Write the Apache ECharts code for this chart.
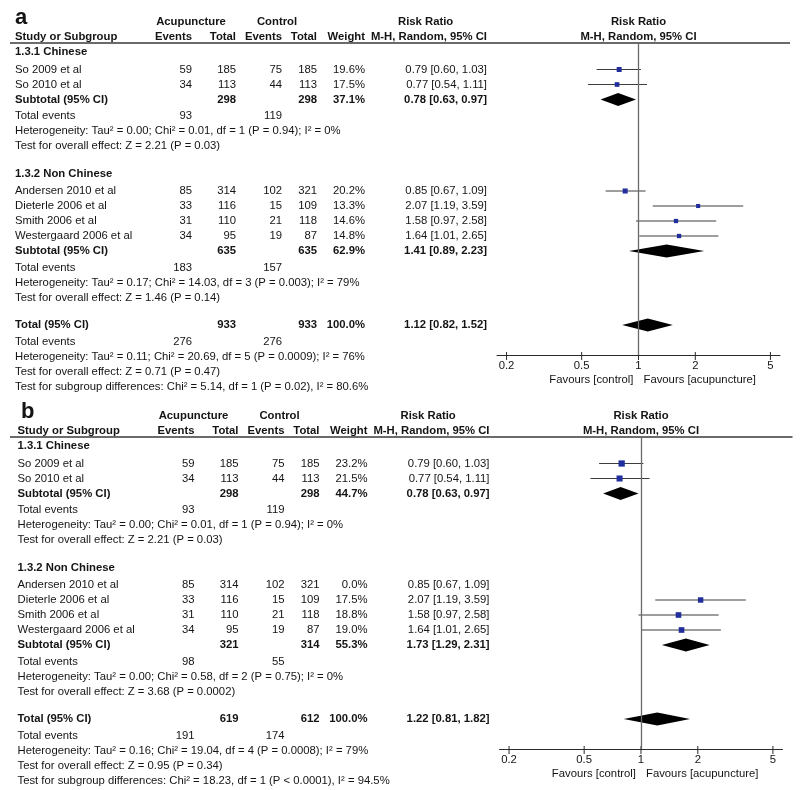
<!DOCTYPE html>
<html><head><meta charset="utf-8">
<script src="https://cdn.jsdelivr.net/npm/echarts@6/dist/echarts.min.js"></script>
<style>html,body{margin:0;padding:0;background:#fff}#c{width:800px;height:790px}</style>
</head><body><div id="c"></div>
<script>
// ---------------- data ----------------
const groupNames = ['1.3.1 Chinese', '1.3.2 Non Chinese'];
const studyNames = ['So 2009 et al', 'So 2010 et al', 'Andersen 2010 et al', 'Dieterle 2006 et al', 'Smith 2006 et al', 'Westergaard 2006 et al'];
const studyGroup = [0, 0, 1, 1, 1, 1];
const acuEvents = [59, 34, 85, 33, 31, 34];
const acuTotal = [185, 113, 314, 116, 110, 95];
const ctlEvents = [75, 44, 102, 15, 21, 19];
const ctlTotal = [185, 113, 321, 109, 118, 87];
const rrEst = [0.79, 0.77, 0.85, 2.07, 1.58, 1.64];
const rrLow = [0.60, 0.54, 0.67, 1.19, 0.97, 1.01];
const rrHigh = [1.03, 1.11, 1.09, 3.59, 2.58, 2.65];
const tickValues = [0.2, 0.5, 1, 2, 5];
const tickLabels = ['0.2', '0.5', '1', '2', '5'];

// panel a
const weightA = [19.6, 17.5, 20.2, 13.3, 14.6, 14.8];
const subAcuTotalA = [298, 635];
const subCtlTotalA = [298, 635];
const subWeightA = [37.1, 62.9];
const subEstA = [0.78, 1.41];
const subLowA = [0.63, 0.89];
const subHighA = [0.97, 2.23];
const subAcuEventsA = [93, 183];
const subCtlEventsA = [119, 157];
const hetA = ['Heterogeneity: Tau² = 0.00; Chi² = 0.01, df = 1 (P = 0.94); I² = 0%',
              'Heterogeneity: Tau² = 0.17; Chi² = 14.03, df = 3 (P = 0.003); I² = 79%'];
const testA = ['Test for overall effect: Z = 2.21 (P = 0.03)',
               'Test for overall effect: Z = 1.46 (P = 0.14)'];
const totalA = [933, 933, 100.0, 1.12, 0.82, 1.52];  // acuTotal, ctlTotal, weight, est, low, high
const totalEventsA = [276, 276];
const totalNotesA = ['Heterogeneity: Tau² = 0.11; Chi² = 20.69, df = 5 (P = 0.0009); I² = 76%',
                     'Test for overall effect: Z = 0.71 (P = 0.47)',
                     'Test for subgroup differences: Chi² = 5.14, df = 1 (P = 0.02), I² = 80.6%'];

// panel b
const weightB = [23.2, 21.5, 0.0, 17.5, 18.8, 19.0];
const subAcuTotalB = [298, 321];
const subCtlTotalB = [298, 314];
const subWeightB = [44.7, 55.3];
const subEstB = [0.78, 1.73];
const subLowB = [0.63, 1.29];
const subHighB = [0.97, 2.31];
const subAcuEventsB = [93, 98];
const subCtlEventsB = [119, 55];
const hetB = ['Heterogeneity: Tau² = 0.00; Chi² = 0.01, df = 1 (P = 0.94); I² = 0%',
              'Heterogeneity: Tau² = 0.00; Chi² = 0.58, df = 2 (P = 0.75); I² = 0%'];
const testB = ['Test for overall effect: Z = 2.21 (P = 0.03)',
               'Test for overall effect: Z = 3.68 (P = 0.0002)'];
const totalB = [619, 612, 100.0, 1.22, 0.81, 1.82];
const totalEventsB = [191, 174];
const totalNotesB = ['Heterogeneity: Tau² = 0.16; Chi² = 19.04, df = 4 (P = 0.0008); I² = 79%',
                     'Test for overall effect: Z = 0.95 (P = 0.34)',
                     'Test for subgroup differences: Chi² = 18.23, df = 1 (P < 0.0001), I² = 94.5%'];

// ---------------- layout ----------------
const panels = [
  { label: 'a', dx: 0, dy: 0, labelX: 15, sq: 1.12, weight: weightA, subAcuTotal: subAcuTotalA, subCtlTotal: subCtlTotalA,
    subWeight: subWeightA, subEst: subEstA, subLow: subLowA, subHigh: subHighA, subAcuEv: subAcuEventsA, subCtlEv: subCtlEventsA,
    het: hetA, test: testA, total: totalA, totalEv: totalEventsA, totalNotes: totalNotesA },
  { label: 'b', dx: 2.5, dy: 394, labelX: 21, sq: 1.3, weight: weightB, subAcuTotal: subAcuTotalB, subCtlTotal: subCtlTotalB,
    subWeight: subWeightB, subEst: subEstB, subLow: subLowB, subHigh: subHighB, subAcuEv: subAcuEventsB, subCtlEv: subCtlEventsB,
    het: hetB, test: testB, total: totalB, totalEv: totalEventsB, totalNotes: totalNotesB }
];
const TOP = 43, PLOT_H = 312, GRID_LEFT = 497, GRID_W = 283;
const COL = { name: 15, acuEv: 192, acuTot: 236, ctlEv: 282, ctlTot: 317, weight: 365, rr: 487 };
const FF = '"Liberation Sans", Arial, sans-serif';
const FS = 11.3;
const TXT = '#141414';
const fnt = (b, s) => (b ? 'bold ' : '') + (s || FS) + 'px ' + FF;
const fmtRR = (e, l, h) => e.toFixed(2) + ' [' + l.toFixed(2) + ', ' + h.toFixed(2) + ']';

function buildRows(P) {
  const rows = [];
  let y = 9;
  const add = (r, extra) => { r.y = y; rows.push(r); y += 15 + (extra || 0); };
  for (let g = 0; g < 2; g++) {
    add({ kind: 'section', g }, 2.5);
    studyNames.forEach((n, i) => { if (studyGroup[i] === g) add({ kind: 'study', i }); });
    add({ kind: 'subtotal', g }, 1.5);
    add({ kind: 'events', acu: P.subAcuEv[g], ctl: P.subCtlEv[g] });
    add({ kind: 'note', text: P.het[g] });
    add({ kind: 'note', text: P.test[g] }, 12.5);
  }
  add({ kind: 'total' }, 1.5);
  add({ kind: 'events', acu: P.totalEv[0], ctl: P.totalEv[1] });
  P.totalNotes.forEach(t => add({ kind: 'note', text: t }));
  return rows;
}

function buildCells(P, rows) {
  const cells = [];
  const c = (y, col, text, align, bold) => cells.push({ y, x: COL[col] + P.dx, text: String(text), align, bold });
  rows.forEach(r => {
    const y = r.y;
    if (r.kind === 'section') c(y, 'name', groupNames[r.g], 'left', true);
    else if (r.kind === 'study') {
      const i = r.i;
      c(y, 'name', studyNames[i], 'left', false);
      c(y, 'acuEv', acuEvents[i], 'right'); c(y, 'acuTot', acuTotal[i], 'right');
      c(y, 'ctlEv', ctlEvents[i], 'right'); c(y, 'ctlTot', ctlTotal[i], 'right');
      c(y, 'weight', P.weight[i].toFixed(1) + '%', 'right');
      c(y, 'rr', fmtRR(rrEst[i], rrLow[i], rrHigh[i]), 'right');
    } else if (r.kind === 'subtotal') {
      const g = r.g;
      c(y, 'name', 'Subtotal (95% CI)', 'left', true);
      c(y, 'acuTot', P.subAcuTotal[g], 'right', true); c(y, 'ctlTot', P.subCtlTotal[g], 'right', true);
      c(y, 'weight', P.subWeight[g].toFixed(1) + '%', 'right', true);
      c(y, 'rr', fmtRR(P.subEst[g], P.subLow[g], P.subHigh[g]), 'right', true);
    } else if (r.kind === 'total') {
      const t = P.total;
      c(y, 'name', 'Total (95% CI)', 'left', true);
      c(y, 'acuTot', t[0], 'right', true); c(y, 'ctlTot', t[1], 'right', true);
      c(y, 'weight', t[2].toFixed(1) + '%', 'right', true);
      c(y, 'rr', fmtRR(t[3], t[4], t[5]), 'right', true);
    } else if (r.kind === 'events') {
      c(y, 'name', 'Total events', 'left');
      c(y, 'acuEv', r.acu, 'right'); c(y, 'ctlEv', r.ctl, 'right');
    } else if (r.kind === 'note') c(y, 'name', r.text, 'left');
  });
  return cells;
}

const grids = [], xAxes = [], yAxes = [], series = [], graphics = [];
panels.forEach((P, p) => {
  const rows = buildRows(P);
  const cells = buildCells(P, rows);
  const top = TOP + P.dy;
  grids.push({ left: GRID_LEFT + P.dx, top: top, width: GRID_W, height: PLOT_H });
  xAxes.push({ type: 'log', logBase: 10, gridIndex: p, min: 0.178, max: 5.62,
    axisLine: { show: true, onZero: false, lineStyle: { color: '#2a2a2a', width: 1 } },
    axisTick: { show: false }, axisLabel: { show: false }, splitLine: { show: false } });
  yAxes.push({ type: 'value', gridIndex: p, min: 0, max: PLOT_H, inverse: true, show: false });

  // table text
  series.push({ type: 'custom', xAxisIndex: p, yAxisIndex: p, silent: true, clip: false, z: 5,
    data: cells.map((cl, k) => [1, cl.y, k]),
    renderItem: (params, api) => {
      const cl = cells[api.value(2)];
      const py = api.coord([1, api.value(1)])[1];
      return { type: 'text', x: cl.x, y: py,
        style: { text: cl.text, fill: TXT, font: fnt(cl.bold), align: cl.align, verticalAlign: 'middle' } };
    } });

  // study markers
  const studyRows = rows.filter(r => r.kind === 'study' && P.weight[r.i] > 0);
  series.push({ type: 'custom', xAxisIndex: p, yAxisIndex: p, silent: true, clip: false, z: 4,
    data: studyRows.map(r => [rrEst[r.i], rrLow[r.i], rrHigh[r.i], r.y, P.weight[r.i]]),
    renderItem: (params, api) => {
      const y = api.value(3);
      const pe = api.coord([api.value(0), y]);
      const pl = api.coord([api.value(1), y]);
      const ph = api.coord([api.value(2), y]);
      const s = P.sq * Math.sqrt(api.value(4));
      return { type: 'group', children: [
        { type: 'line', shape: { x1: pl[0], y1: pe[1], x2: ph[0], y2: pe[1] }, style: { stroke: '#3c3c3c', lineWidth: 1 } },
        { type: 'rect', shape: { x: pe[0] - s / 2, y: pe[1] - s / 2, width: s, height: s }, style: { fill: '#1f2e9c' } }
      ] };
    },
    markLine: { silent: true, symbol: ['none', 'none'], label: { show: false },
      lineStyle: { color: '#6a6a6a', width: 1.3, type: 'solid' }, data: [{ xAxis: 1 }] } });

  // diamonds
  const diaRows = rows.filter(r => r.kind === 'subtotal' || r.kind === 'total');
  series.push({ type: 'custom', xAxisIndex: p, yAxisIndex: p, silent: true, clip: false, z: 4,
    data: diaRows.map(r => r.kind === 'total' ? [P.total[3], P.total[4], P.total[5], r.y]
                                              : [P.subEst[r.g], P.subLow[r.g], P.subHigh[r.g], r.y]),
    renderItem: (params, api) => {
      const y = api.value(3);
      const pe = api.coord([api.value(0), y]);
      const pl = api.coord([api.value(1), y]);
      const ph = api.coord([api.value(2), y]);
      const h = 6.5;
      return { type: 'polygon', shape: { points: [[pl[0], pe[1]], [pe[0], pe[1] - h], [ph[0], pe[1]], [pe[0], pe[1] + h]] },
        style: { fill: '#000' } };
    } });

  // axis ticks + labels
  series.push({ type: 'custom', xAxisIndex: p, yAxisIndex: p, silent: true, clip: false, z: 4,
    data: tickValues.map((v, k) => [v, PLOT_H, k]),
    renderItem: (params, api) => {
      const pt = api.coord([api.value(0), api.value(1)]);
      return { type: 'group', children: [
        { type: 'line', shape: { x1: pt[0], y1: pt[1] - 3, x2: pt[0], y2: pt[1] + 5 }, style: { stroke: '#2a2a2a', lineWidth: 1 } },
        { type: 'text', x: pt[0], y: pt[1] + 11, style: { text: tickLabels[api.value(2)], fill: TXT, font: fnt(false), align: 'center', verticalAlign: 'middle' } }
      ] };
    } });

  // favours labels
  series.push({ type: 'custom', xAxisIndex: p, yAxisIndex: p, silent: true, clip: false, z: 4,
    data: [[1, PLOT_H]],
    renderItem: (params, api) => {
      const pt = api.coord([api.value(0), api.value(1)]);
      return { type: 'group', children: [
        { type: 'text', x: pt[0] - 5, y: pt[1] + 25, style: { text: 'Favours [control]', fill: TXT, font: fnt(false), align: 'right', verticalAlign: 'middle' } },
        { type: 'text', x: pt[0] + 5, y: pt[1] + 25, style: { text: 'Favours [acupuncture]', fill: TXT, font: fnt(false), align: 'left', verticalAlign: 'middle' } }
      ] };
    } });

  // headers
  const dx = P.dx, dy = P.dy;
  const plotCx = GRID_LEFT + dx + GRID_W / 2;
  const ht = (x, y, text, align, bold, size) => graphics.push({ type: 'text', x, y,
    style: { text, fill: TXT, font: fnt(bold, size), align, verticalAlign: 'middle' } });
  ht(P.labelX, 18 + dy, P.label, 'left', true, 22);
  ht(191 + dx, 22 + dy, 'Acupuncture', 'center', true);
  ht(277 + dx, 22 + dy, 'Control', 'center', true);
  ht(398 + dx, 22 + dy, 'Risk Ratio', 'left', true);
  ht(plotCx, 22 + dy, 'Risk Ratio', 'center', true);
  ht(COL.name + dx, 37 + dy, 'Study or Subgroup', 'left', true);
  ht(COL.acuEv + dx, 37 + dy, 'Events', 'right', true);
  ht(COL.acuTot + dx, 37 + dy, 'Total', 'right', true);
  ht(COL.ctlEv + dx, 37 + dy, 'Events', 'right', true);
  ht(COL.ctlTot + dx, 37 + dy, 'Total', 'right', true);
  ht(COL.weight + dx, 37 + dy, 'Weight', 'right', true);
  ht(COL.rr + dx, 37 + dy, 'M-H, Random, 95% CI', 'right', true);
  ht(plotCx, 37 + dy, 'M-H, Random, 95% CI', 'center', true);
  graphics.push({ type: 'line', shape: { x1: 10, y1: top, x2: 790 + dx, y2: top }, style: { stroke: '#3a3a3a', lineWidth: 1.5 } });
});

const chart = echarts.init(document.getElementById('c'), null, { renderer: 'canvas' });
chart.setOption({
  animation: false,
  backgroundColor: '#fff',
  grid: grids,
  xAxis: xAxes,
  yAxis: yAxes,
  series: series,
  graphic: { elements: graphics }
});
</script>
</body></html>
